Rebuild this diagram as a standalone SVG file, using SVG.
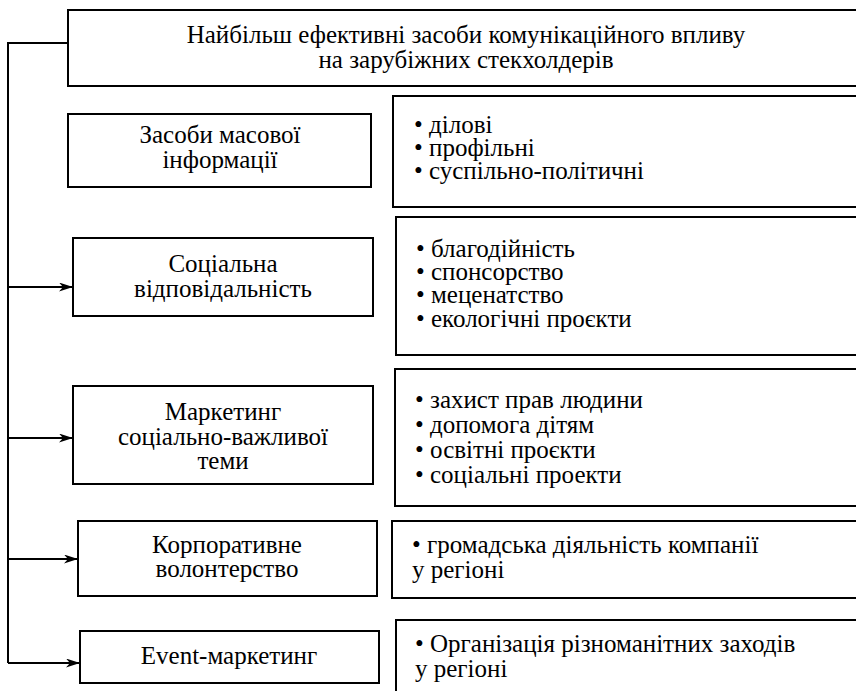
<svg xmlns="http://www.w3.org/2000/svg" width="856" height="691" viewBox="0 0 856 691">
<style>
.box{fill:#fff;stroke:#000;stroke-width:2}
.t{font-family:"Liberation Serif","Times New Roman",serif;font-size:25px;fill:#000}
.c{text-anchor:middle}
.line{fill:none;stroke:#000;stroke-width:2}
</style>
<defs>
<marker id="arr" viewBox="0 0 14 9" refX="14" refY="4.5" markerWidth="14" markerHeight="9" markerUnits="userSpaceOnUse" orient="auto">
<path d="M0,0 L14,4.5 L0,9 L4,4.5 Z" fill="#000"/>
</marker>
</defs>
<rect width="856" height="691" fill="#fff"/>
<g id="connectors">
<polyline class="line" points="68,43 8,43 8,663"/>
<line class="line" x1="8" y1="287" x2="73" y2="287" marker-end="url(#arr)"/>
<line class="line" x1="8" y1="438" x2="73" y2="438" marker-end="url(#arr)"/>
<line class="line" x1="8" y1="559" x2="78" y2="559" marker-end="url(#arr)"/>
<line class="line" x1="8" y1="663" x2="80" y2="663" marker-end="url(#arr)"/>
</g>
<g id="title">
<rect class="box" x="68" y="10" width="800" height="76"/>
<text class="t c" x="466" y="43">Найбільш ефективні засоби комунікаційного впливу</text>
<text class="t c" x="466" y="68">на зарубіжних стекхолдерів</text>
</g>
<g id="n1">
<rect class="box" x="68" y="114" width="303" height="73"/>
<text class="t c" x="220" y="143">Засоби масової</text>
<text class="t c" x="220" y="168">інформації</text>
</g>
<g id="n2">
<rect class="box" x="73" y="238" width="300" height="78"/>
<text class="t c" x="223" y="272">Соціальна</text>
<text class="t c" x="223" y="297">відповідальність</text>
</g>
<g id="n3">
<rect class="box" x="73" y="386" width="300" height="98"/>
<text class="t c" x="223" y="420">Маркетинг</text>
<text class="t c" x="223" y="445">соціально-важливої</text>
<text class="t c" x="223" y="469">теми</text>
</g>
<g id="n4">
<rect class="box" x="78" y="521" width="299" height="75"/>
<text class="t c" x="227" y="553">Корпоративне</text>
<text class="t c" x="227" y="577">волонтерство</text>
</g>
<g id="n5">
<rect class="box" x="80" y="631" width="299" height="52"/>
<text class="t c" x="229" y="664">Event-маркетинг</text>
</g>
<g id="r1">
<rect class="box" x="393" y="96" width="475" height="111"/>
<text class="t" x="414" y="133">• ділові</text>
<text class="t" x="414" y="156">• профільні</text>
<text class="t" x="414" y="179">• суспільно-політичні</text>
</g>
<g id="r2">
<rect class="box" x="396" y="217" width="472" height="138"/>
<text class="t" x="416" y="257">• благодійність</text>
<text class="t" x="416" y="280">• спонсорство</text>
<text class="t" x="416" y="303">• меценатство</text>
<text class="t" x="416" y="327">• екологічні проєкти</text>
</g>
<g id="r3">
<rect class="box" x="395" y="369" width="473" height="137"/>
<text class="t" x="415" y="408">• захист прав людини</text>
<text class="t" x="415" y="433">• допомога дітям</text>
<text class="t" x="415" y="458">• освітні проєкти</text>
<text class="t" x="415" y="483">• соціальні проекти</text>
</g>
<g id="r4">
<rect class="box" x="392" y="521" width="476" height="77"/>
<text class="t" x="412" y="553">• громадська діяльність компанії</text>
<text class="t" x="412" y="578">у регіоні</text>
</g>
<g id="r5">
<rect class="box" x="396" y="620" width="472" height="80"/>
<text class="t" x="415" y="652">• Організація різноманітних заходів</text>
<text class="t" x="415" y="677">у регіоні</text>
</g>
</svg>
